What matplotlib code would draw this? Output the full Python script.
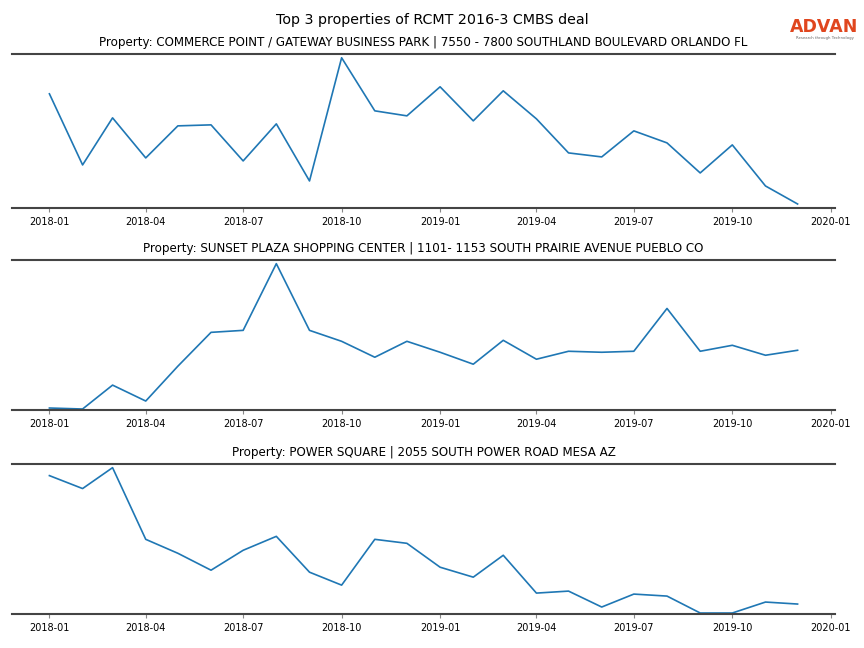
import numpy as np
import pandas as pd
import matplotlib
matplotlib.use("Agg")
import matplotlib.pyplot as plt

# месяцы наблюдений
months = pd.date_range("2018-01-01", "2019-12-01", freq="MS")

titles = [
    "Property: COMMERCE POINT / GATEWAY BUSINESS PARK | 7550 - 7800 SOUTHLAND BOULEVARD ORLANDO FL",
    "Property: SUNSET PLAZA SHOPPING CENTER | 1101- 1153 SOUTH PRAIRIE AVENUE PUEBLO CO",
    "Property: POWER SQUARE | 2055 SOUTH POWER ROAD MESA AZ",
]

# значения
commerce_point = [114, 43, 90, 50, 82, 83, 47, 84, 27, 150, 97, 92,
                  121, 87, 117, 89, 55, 51, 77, 65, 35, 63, 22, 4]
sunset_plaza = [2, 1, 25, 9, 44, 78, 80, 147, 80, 69, 53, 69,
                58, 46, 70, 51, 59, 58, 59, 102, 59, 65, 55, 60]
power_square = [139, 126, 147, 75, 61, 44, 64, 78, 42, 29, 75, 71,
                47, 37, 59, 21, 23, 7, 20, 18, 1, 1, 12, 10]

series = [commerce_point, sunset_plaza, power_square]
# (top, bottom) в пикселях
boxes = [(54, 208), (260, 410), (464, 614)]

W, H = 864, 648
fig = plt.figure(figsize=(W / 100, H / 100), dpi=100)

left, right = 12 / W, 835 / W
for vals, title, (top, bot) in zip(series, titles, boxes):
    ax = fig.add_axes([left, 1 - bot / H, right - left, (bot - top) / H])
    ax.plot(months, vals, color="#1f77b4", lw=1.2)
    ax.set_ylim(0, max(vals) * 1.025)
    ax.set_title(title, fontsize=8.6, pad=5.5)
    for s in ["left", "right"]:
        ax.spines[s].set_visible(False)
    for s in ["top", "bottom"]:
        ax.spines[s].set_color("#444444")
        ax.spines[s].set_linewidth(1.5)
    ax.set_yticks([])
    ax.set_xticks(pd.date_range("2018-01-01", "2020-01-01", freq="3MS"))
    ax.xaxis.set_major_formatter(matplotlib.dates.DateFormatter("%Y-%m"))
    ax.tick_params(axis="x", labelsize=7, length=3, color="#888888", width=0.8)

fig.text(432 / W, 1 - 20 / H, "Top 3 properties of RCMT 2016-3 CMBS deal",
         ha="center", va="center", fontsize=10.3)

# логотип
fig.text(824.5 / W, 1 - 27 / H, "ADVAN", ha="center", va="center",
         fontsize=12.5, color="#e0461e", fontweight="semibold")
fig.text(824.5 / W, 1 - 38 / H, "Research through Technology", ha="center",
         va="center", fontsize=2.8, color="#666666")

fig.savefig("out.png", dpi=100)
